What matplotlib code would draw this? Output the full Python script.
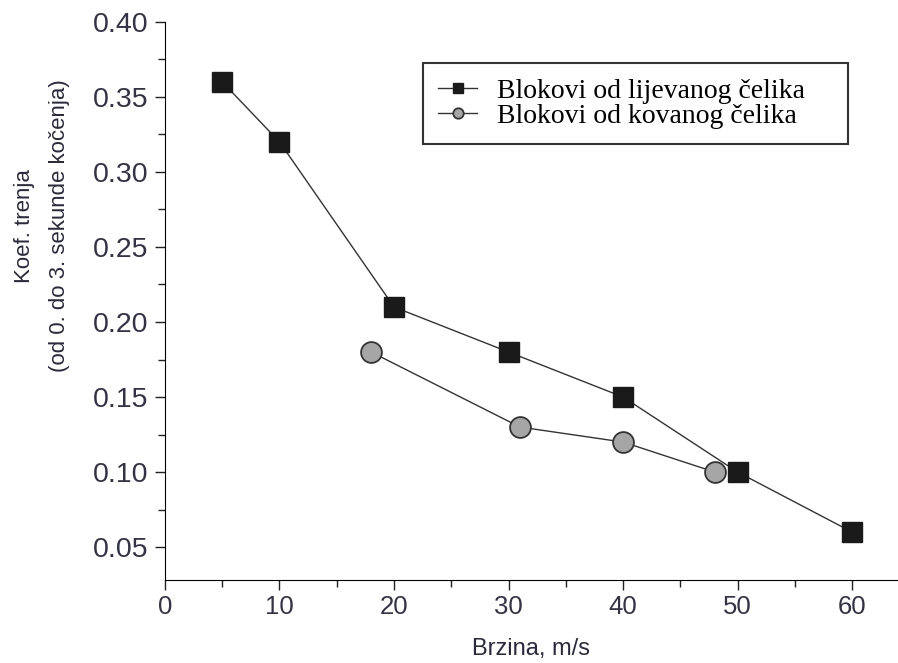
import matplotlib
matplotlib.use("Agg")
import matplotlib.pyplot as plt
from matplotlib.ticker import MultipleLocator

x_cast = [5, 10, 20, 30, 40, 50, 60]
y_cast = [0.36, 0.32, 0.21, 0.18, 0.15, 0.10, 0.06]
x_forged = [18, 31, 40, 48]
y_forged = [0.18, 0.13, 0.12, 0.10]
label_cast = "Blokovi od lijevanog čelika"
label_forged = "Blokovi od kovanog čelika"
xlabel = "Brzina, m/s"
ylabel = "Koef. trenja\n(od 0. do 3. sekunde kočenja)"
yticks = [0.05, 0.10, 0.15, 0.20, 0.25, 0.30, 0.35, 0.40]

plt.rcParams['font.family'] = ['Liberation Sans', 'DejaVu Sans']
fig = plt.figure(figsize=(8.98, 6.63), dpi=100)
ax = fig.add_axes([0.1837, 0.125, 0.8163, 0.842])

ax.plot(x_cast, y_cast, color='#333333', lw=1.0, marker='s', ms=14,
        mfc='#1a1a1a', mec='#1a1a1a', label=label_cast + "    ", zorder=3)
ax.plot(x_forged, y_forged, color='#333333', lw=1.0, marker='o', ms=15,
        mfc='#a6a6a6', mec='#333333', mew=1.3, label=label_forged, zorder=3)

ax.set_xlim(0, 64)
ax.set_ylim(0.028, 0.40)
ax.spines['top'].set_visible(False)
ax.spines['right'].set_visible(False)
ax.xaxis.set_major_locator(MultipleLocator(10))
ax.xaxis.set_minor_locator(MultipleLocator(5))
ax.yaxis.set_minor_locator(MultipleLocator(0.025))
ax.set_yticks(yticks)
ax.set_yticklabels([f"{v:.2f}" for v in yticks])
ax.tick_params(which='major', length=7, width=1.0, colors='#222222')
ax.tick_params(which='minor', length=5, width=1.0, colors='#222222')
ax.tick_params(axis='y', labelcolor='#333344', labelsize=20.5, pad=5)
ax.tick_params(axis='x', labelcolor='#333344', labelsize=18.5)

ax.set_xlabel(xlabel, fontsize=17, color='#2a2a3a', labelpad=14)
fig.text(42 / 898, 1 - 226 / 663, ylabel, fontsize=16, color='#2a2a3a',
         rotation=90, ha='center', va='center', multialignment='center',
         linespacing=1.9)

leg = ax.legend(loc='upper left', bbox_to_anchor=(0.352, 0.9265), fancybox=False,
                edgecolor='#333333', framealpha=1,
                prop={'family': 'Liberation Serif', 'size': 20},
                markerscale=0.5, handlelength=1.4, handletextpad=0.7,
                labelspacing=0.0, borderpad=0.55, borderaxespad=0)
leg.get_frame().set_linewidth(1.5)

fig.savefig("out.png", dpi=100)
